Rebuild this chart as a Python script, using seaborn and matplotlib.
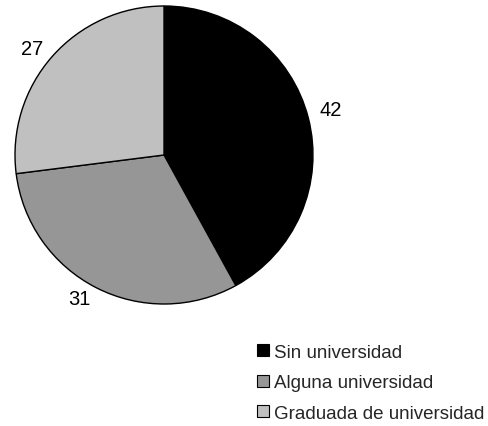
import matplotlib
matplotlib.use('Agg')
import matplotlib.pyplot as plt
import seaborn as sns

sns.set_theme(style='white')
plt.rcParams['font.family'] = ['Liberation Sans', 'DejaVu Sans']

categories = ['Sin universidad', 'Alguna universidad', 'Graduada de universidad']
values = [42, 31, 27]
colors = ['#000000', '#969696', '#c0c0c0']

W, H = 489, 427
fig = plt.figure(figsize=(W / 100, H / 100), dpi=100)
# pie axes: circle spans x 15..313, y 7..305 (pixels)
ax = fig.add_axes([15 / W, 1 - 305 / H, 298 / W, 298 / H])

wedges, texts = ax.pie(values, labels=[str(v) for v in values], colors=colors,
                       startangle=90, counterclock=False, labeldistance=1.08,
                       wedgeprops={'edgecolor': 'black', 'linewidth': 1.0},
                       textprops={'fontsize': 14.5, 'color': 'black'})
ax.set_xlim(-1, 1)
ax.set_ylim(-1, 1)
ax.set_aspect('equal')
for t in texts:
    t.set_clip_on(False)
# the "42" label sits a little higher in the original
x42, y42 = texts[0].get_position()
texts[0].set_position((x42, y42 + 0.04))

handles = [plt.Rectangle((0, 0), 1, 1, facecolor=c, edgecolor='black', linewidth=0.8)
           for c in colors]
fig.legend(handles, categories, loc='upper left', bbox_to_anchor=(257 / W, 1 - 345 / H),
           frameon=False, fontsize=13.5, handlelength=0.62, handleheight=0.62,
           handletextpad=0.28, labelspacing=0.72, borderaxespad=0, borderpad=0)

fig.savefig('out.png', dpi=100)
